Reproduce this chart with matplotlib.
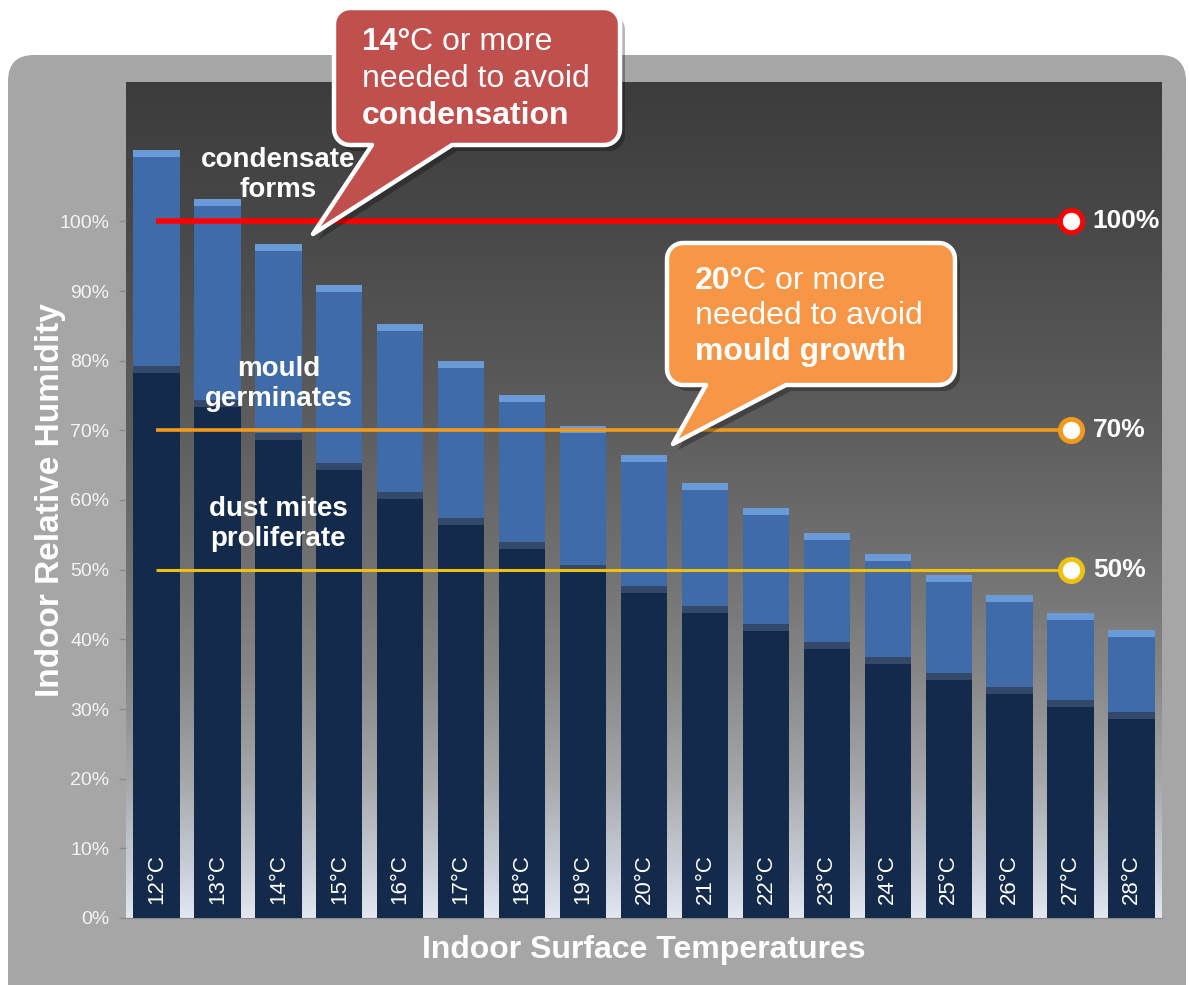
import numpy as np
import matplotlib
matplotlib.use("Agg")
import matplotlib.pyplot as plt
from matplotlib.colors import LinearSegmentedColormap
from matplotlib.patches import FancyBboxPatch, Polygon

plt.rcParams['font.family'] = ['Liberation Sans', 'DejaVu Sans']

# ---- data ----
temps = ['12°C', '13°C', '14°C', '15°C', '16°C', '17°C', '18°C', '19°C', '20°C',
         '21°C', '22°C', '23°C', '24°C', '25°C', '26°C', '27°C', '28°C']
total_rh = [110.2, 103.2, 96.8, 90.8, 85.2, 80.0, 75.1, 70.6, 66.4,
            62.5, 58.8, 55.3, 52.2, 49.2, 46.4, 43.8, 41.3]
lower_rh = [79.3, 74.4, 69.6, 65.3, 61.2, 57.4, 53.9, 50.6, 47.6,
            44.8, 42.2, 39.6, 37.4, 35.2, 33.2, 31.3, 29.6]
y_ticks = [0, 10, 20, 30, 40, 50, 60, 70, 80, 90, 100]
thresholds = [100, 70, 50]
threshold_labels = ['100%', '70%', '50%']
threshold_colors = ['#ff0000', '#f39a1c', '#eec010']
threshold_widths = [4.0, 2.6, 2.2]
zone_labels = ['condensate\nforms', 'mould\ngerminates', 'dust mites\nproliferate']
zone_y = [106.6, 76.6, 56.6]

W, H = 1190, 985
fig = plt.figure(figsize=(W / 100, H / 100), dpi=100)
fig.patch.set_facecolor('white')

# background grey panel
ax_bg = fig.add_axes([0, 0, 1, 1], zorder=0)
ax_bg.set_xlim(0, W)
ax_bg.set_ylim(H, 0)
ax_bg.axis('off')
ax_bg.add_patch(FancyBboxPatch((8, 55), 1178, 980, boxstyle='round,pad=0,rounding_size=26',
                               fc='#a6a6a6', ec='none'))

# main chart
ax = fig.add_axes([126 / W, 67 / H, 1036 / W, 836 / H], zorder=1)
ax.patch.set_alpha(0)
n = len(temps)
x = np.arange(n)
ax.set_xlim(-0.5, n - 0.5)
ax.set_ylim(0, 120)

# plot-area gradient (dark top -> pale bottom)
stops = [(0.0, '#e2e6ee'), (8 / 120, '#c6cbd3'), (20 / 120, '#a4a6a9'), (35 / 120, '#868686'),
         (50 / 120, '#727272'), (70 / 120, '#5e5e5e'), (100 / 120, '#484848'), (1.0, '#3c3c3c')]
cmap = LinearSegmentedColormap.from_list('bg', stops)
grad = np.linspace(0, 1, 256).reshape(-1, 1)
ax.imshow(grad, cmap=cmap, aspect='auto', origin='lower',
          extent=[-0.5, n - 0.5, 0, 120], zorder=0)

bw = 0.76
bevel = 1.0
tot = np.array(total_rh)
low = np.array(lower_rh)
ax.bar(x, tot, width=bw, color='#3f6ca8', zorder=2)
ax.bar(x, bevel, bottom=tot - bevel, width=bw, color='#6b9bd6', zorder=3)
ax.bar(x, low, width=bw, color='#142a4b', zorder=4)
ax.bar(x, bevel, bottom=low - bevel, width=bw, color='#34496a', zorder=5)

for xi, t in zip(x, temps):
    ax.text(xi, 2.0, t, rotation=90, ha='center', va='bottom', color='white',
            fontsize=16, zorder=6)

# threshold lines with end markers
for yv, lab, c, lw in zip(thresholds, threshold_labels, threshold_colors, threshold_widths):
    ax.plot([x[0], x[15]], [yv, yv], color=c, lw=lw, zorder=7, solid_capstyle='butt')
    ax.plot([x[15]], [yv], marker='o', ms=16, mfc='white', mec=c, mew=3.5, zorder=8)
    ax.annotate(lab, xy=(x[15], yv), xytext=(16, 0), textcoords='offset points',
                ha='left', va='center', color='white', fontsize=19, fontweight='bold',
                zorder=9, annotation_clip=False)

for lab, yv in zip(zone_labels, zone_y):
    ax.text(2.0, yv, lab, ha='center', va='center', color='white', fontsize=20,
            fontweight='bold', linespacing=1.2, zorder=9)

ax.set_yticks(y_ticks)
ax.set_yticklabels([f'{v}%' for v in y_ticks], color='#f4f4f4', fontsize=14)
ax.tick_params(axis='y', length=5, width=1, color='#8a8a8a', pad=7)
ax.set_xticks([])
for s in ['top', 'right', 'left']:
    ax.spines[s].set_visible(False)
ax.spines['bottom'].set_color('#8a8a8a')
ax.set_ylabel('Indoor Relative Humidity', color='white', fontsize=24,
              fontweight='bold')
ax.yaxis.set_label_coords(-0.058, 0.5)
ax.set_xlabel('Indoor Surface Temperatures', color='white', fontsize=23,
              fontweight='bold', labelpad=12)

# callouts in pixel space
ax_ov = fig.add_axes([0, 0, 1, 1], zorder=2)
ax_ov.set_xlim(0, W)
ax_ov.set_ylim(H, 0)
ax_ov.axis('off')


def callout_shape(x0, y0, x1, y1, r, bl, br, tip):
    pts = []

    def arc(cx, cy, a0, a1):
        a = np.radians(np.linspace(a0, a1, 12))
        return list(zip(cx + r * np.cos(a), cy + r * np.sin(a)))
    pts += arc(x0 + r, y0 + r, 180, 270)
    pts += arc(x1 - r, y0 + r, 270, 360)
    pts += arc(x1 - r, y1 - r, 0, 90)
    pts += [(br, y1), tip, (bl, y1)]
    pts += arc(x0 + r, y1 - r, 90, 180)
    return np.array(pts)


def draw_callout(box, base, tip, fc, lines, baselines, tx):
    pts = callout_shape(box[0], box[1], box[2], box[3], 16, base[0], base[1], tip)
    ax_ov.add_patch(Polygon(pts + [5, 6], closed=True, fc='black', ec='none', alpha=0.28))
    ax_ov.add_patch(Polygon(pts, closed=True, fc=fc, ec='white', lw=3.2, joinstyle='round'))
    for parts, yb in zip(lines, baselines):
        prev = None
        for txt, wt in parts:
            if prev is None:
                prev = ax_ov.text(tx, yb, txt, color='white', fontsize=23, fontweight=wt,
                                  ha='left', va='baseline')
            else:
                prev = ax_ov.annotate(txt, xy=(1, 0), xycoords=prev, color='white',
                                      fontsize=23, fontweight=wt, ha='left', va='bottom')


draw_callout((334, 8, 620, 145), (372, 452), (313, 234), '#c0504d',
             [[('14°', 'bold'), ('C or more', 'normal')],
              [('needed to avoid', 'normal')],
              [('condensation', 'bold')]],
             [50, 87, 124], 362)
draw_callout((667, 243, 955, 385), (706, 786), (673, 444), '#f79646',
             [[('20°', 'bold'), ('C or more', 'normal')],
              [('needed to avoid', 'normal')],
              [('mould growth', 'bold')]],
             [289, 324, 360], 695)

fig.savefig('out.png', dpi=100)
